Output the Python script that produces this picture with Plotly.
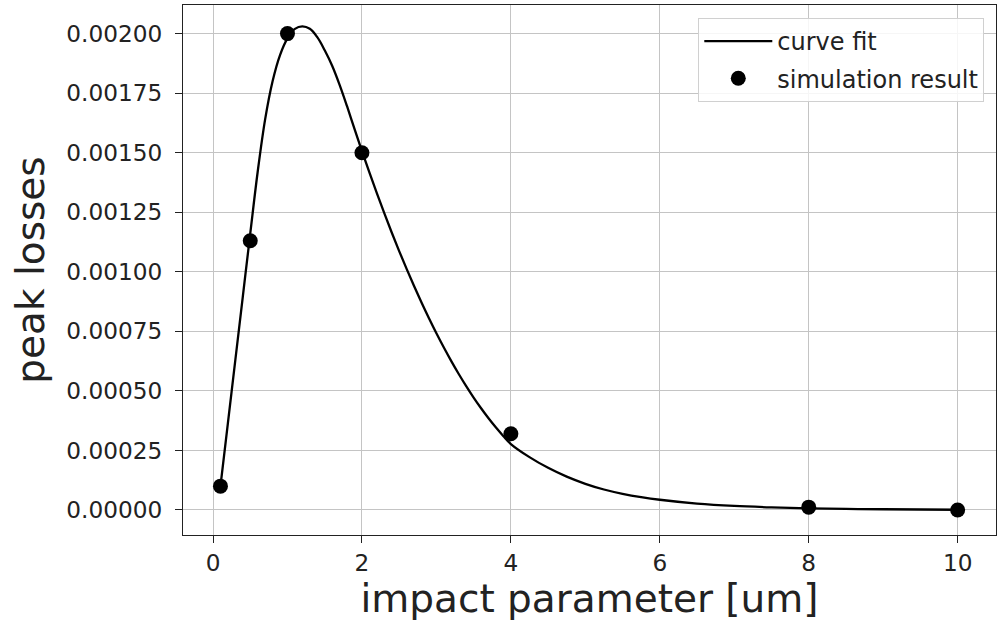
import plotly.graph_objects as go

# simulation results
sim_x = [0.1, 0.5, 1.0, 2.0, 4.0, 8.0, 10.0]
sim_y = [0.00010, 0.00113, 0.00200, 0.00150, 0.00032, 0.000012, 0.0]

# curve fit, sampled along the drawn curve
fit_x = [0.1, 0.2, 0.3, 0.4, 0.5, 0.6, 0.7, 0.8, 0.9, 1.0, 1.1, 1.2, 1.3, 1.4, 1.5, 1.6,
         1.7, 1.8, 1.9, 2.0, 2.1, 2.2, 2.3, 2.4, 2.5, 2.6, 2.7, 2.8, 2.9, 3.0, 3.1, 3.2,
         3.3, 3.4, 3.5, 3.6, 3.7, 3.8, 3.9, 4.0, 4.25, 4.5, 4.75, 5.0, 5.25, 5.5, 5.75,
         6.0, 6.5, 7.0, 7.5, 8.0, 8.5, 9.0, 10.0]
fit_y = [0.000100, 0.000365, 0.000630, 0.000895, 0.001160, 0.001420, 0.001640, 0.001800,
         0.001910, 0.001980, 0.002020, 0.002030, 0.002020, 0.001985, 0.001930, 0.001865,
         0.001785, 0.001695, 0.001600, 0.001507, 0.001417, 0.001330, 0.001246, 0.001165,
         0.001087, 0.001012, 0.000940, 0.000871, 0.000805, 0.000742, 0.000682, 0.000625,
         0.000571, 0.000520, 0.000472, 0.000427, 0.000385, 0.000346, 0.000310, 0.000277,
         0.000222, 0.000177, 0.000140, 0.000110, 0.000086, 0.000068, 0.000054, 0.000043,
         0.000027, 0.000017, 0.000011, 0.000007, 0.0000045, 0.000003, 0.000001]

x_ticks = [0, 2, 4, 6, 8, 10]
y_ticks = [0.0, 0.00025, 0.0005, 0.00075, 0.001, 0.00125, 0.0015, 0.00175, 0.002]

FONT = "DejaVu Sans"
TXT = "#222222"

fig = go.Figure()
fig.add_trace(go.Scatter(
    x=fit_x, y=fit_y, mode="lines", name="curve fit",
    line=dict(color="black", width=2.3, shape="spline", smoothing=1.0),
    legendgroup="a",
))
fig.add_trace(go.Scatter(
    x=sim_x, y=sim_y, mode="markers", name="simulation result",
    marker=dict(color="black", size=15),
    legendgroup="b",
))

axis_common = dict(
    showline=True, linecolor="#222222", linewidth=1.3, mirror=True,
    showgrid=True, gridcolor="#c4c4c4", gridwidth=1.2,
    ticks="outside", ticklen=7, tickwidth=1.3, tickcolor="#222222",
    tickfont=dict(family=FONT, size=23.2, color=TXT),
    zeroline=False, automargin=False,
)

fig.update_layout(
    width=1000, height=627,
    margin=dict(l=183, r=4, t=5, b=92),
    plot_bgcolor="white", paper_bgcolor="white",
    font=dict(family=FONT, color=TXT),
    xaxis=dict(
        range=[-0.403, 10.515], tickvals=x_ticks, ticktext=[str(v) for v in x_ticks],
        title=dict(text="impact parameter [um]", font=dict(family=FONT, size=39, color=TXT), standoff=6),
        **axis_common,
    ),
    yaxis=dict(
        range=[-0.000105, 0.00212], tickvals=y_ticks, tickformat=".5f",
        ticklabelstandoff=8,
        title=dict(text="peak losses", font=dict(family=FONT, size=39, color=TXT), standoff=9),
        **axis_common,
    ),
    showlegend=True,
    legend=dict(
        x=0.9856, y=0.9755, xanchor="right", yanchor="top",
        bgcolor="rgba(255,255,255,0.85)", bordercolor="#d0d0d0", borderwidth=1,
        font=dict(family=FONT, size=24, color=TXT),
        traceorder="grouped", tracegroupgap=3, itemwidth=68,
    ),
)

fig.write_html("out.html", config={"displayModeBar": False},
               post_script="document.body.style.margin='0';")
